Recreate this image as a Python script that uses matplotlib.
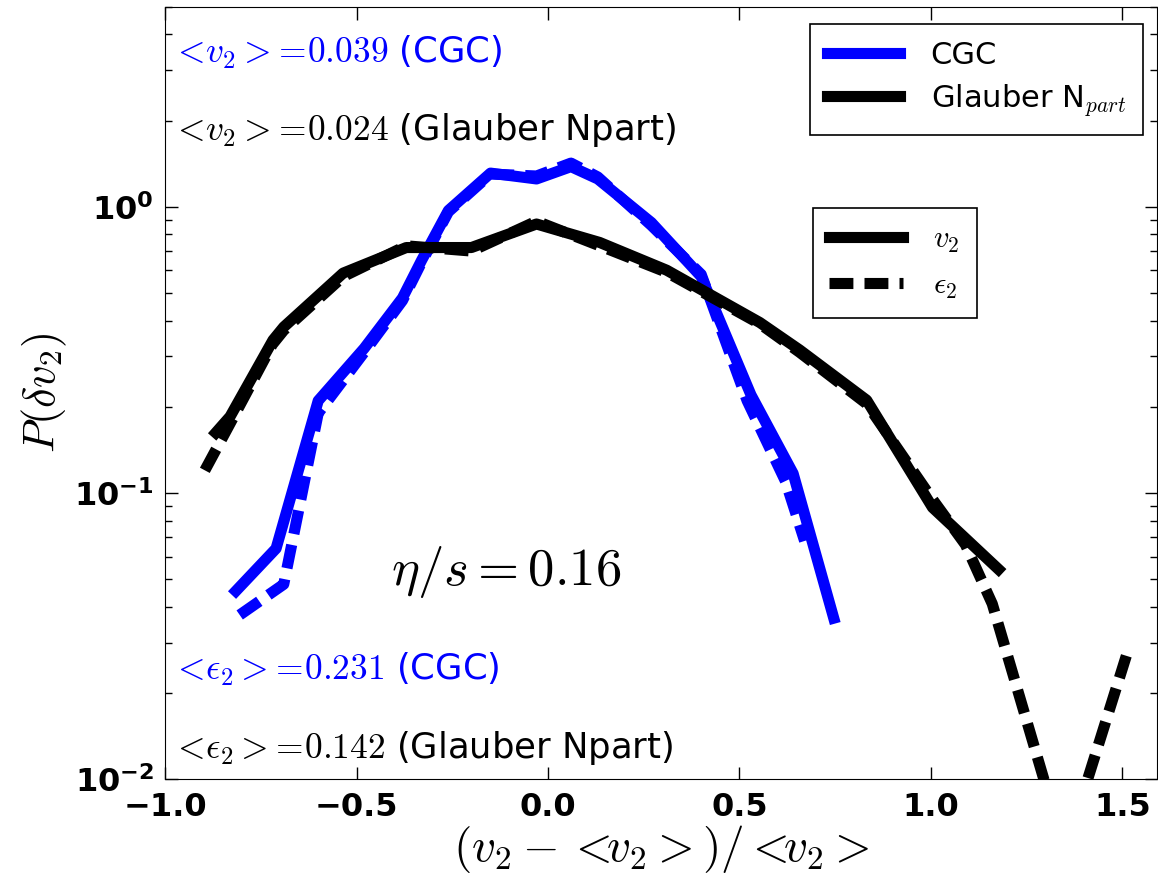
import matplotlib
matplotlib.use("Agg")
import matplotlib.pyplot as plt
from matplotlib.lines import Line2D

plt.rcParams['mathtext.fontset'] = 'cm'
plt.rcParams['font.family'] = ['DejaVu Sans']

# CGC, v2 (solid) and eps2 (dashed)
cgc_x_v2 = [-0.825, -0.71, -0.60, -0.48, -0.38, -0.33, -0.26, -0.15, -0.03, 0.06, 0.13, 0.27, 0.40, 0.53, 0.64, 0.75]
cgc_v2 = [0.044, 0.064, 0.21, 0.32, 0.48, 0.65, 0.97, 1.31, 1.25, 1.38, 1.25, 0.88, 0.57, 0.22, 0.117, 0.035]
cgc_x_e2 = [-0.805, -0.69, -0.60, -0.48, -0.38, -0.33, -0.26, -0.15, -0.03, 0.06, 0.13, 0.27, 0.40, 0.52, 0.62, 0.67]
cgc_e2 = [0.0375, 0.048, 0.19, 0.31, 0.47, 0.64, 0.96, 1.30, 1.28, 1.42, 1.27, 0.86, 0.58, 0.21, 0.11, 0.068]

# Glauber Npart, v2 (solid) and eps2 (dashed)
gl_x_v2 = [-0.877, -0.83, -0.718, -0.69, -0.535, -0.37, -0.20, -0.03, 0.135, 0.31, 0.553, 0.657, 0.832, 1.004, 1.187]
gl_v2 = [0.157, 0.185, 0.342, 0.38, 0.586, 0.72, 0.72, 0.87, 0.75, 0.60, 0.394, 0.316, 0.211, 0.089, 0.0525]
gl_x_e2 = [-0.896, -0.83, -0.72, -0.69, -0.535, -0.37, -0.20, -0.03, 0.135, 0.31, 0.553, 0.657, 0.832, 1.004, 1.09, 1.16, 1.35, 1.51]
gl_e2 = [0.12, 0.175, 0.33, 0.37, 0.57, 0.73, 0.70, 0.89, 0.73, 0.59, 0.39, 0.31, 0.205, 0.095, 0.066, 0.041, 0.0056, 0.027]

xticks = [-1.0, -0.5, 0.0, 0.5, 1.0, 1.5]
xticklabels = ['\u22121.0', '\u22120.5', '0.0', '0.5', '1.0', '1.5']
yticks = [0.01, 0.1, 1.0]
yticklabels = [r'$\mathdefault{10^{-2}}$', r'$\mathdefault{10^{-1}}$', r'$\mathdefault{10^{0}}$']

fig = plt.figure(figsize=(11.58, 8.77), dpi=100)
ax = fig.add_axes([0.1425, 0.1114, 0.8566, 0.8811])

lw = 8
dash = [2.15, 1.0]
ax.plot(cgc_x_v2, cgc_v2, color='b', lw=lw, solid_capstyle='butt')
ax.plot(cgc_x_e2, cgc_e2, color='b', lw=lw, dashes=dash)
ax.plot(gl_x_v2, gl_v2, color='k', lw=lw, solid_capstyle='butt')
ax.plot(gl_x_e2, gl_e2, color='k', lw=lw, dashes=dash)

ax.set_yscale('log')
ax.set_xlim(-1.0, 1.59)
ax.set_ylim(0.01, 5.0)
ax.set_xticks(xticks, xticklabels, fontsize=23, fontweight='bold')
ax.set_yticks(yticks, yticklabels, fontsize=23, fontweight='bold')
ax.tick_params(which='both', direction='in', top=True, right=True)
ax.tick_params(which='major', length=9, width=1, pad=8)
ax.tick_params(which='minor', length=5, width=1)
ax.tick_params(axis='x', pad=9)

ax.set_xlabel(r'$(v_2 - <\!\!v_2>)/<\!\!v_2>$', fontsize=34, labelpad=0)
ax.set_ylabel(r'$P(\delta v_2)$', fontsize=32, labelpad=4)

fs = 25.5
ax.text(0.006, 0.941, r'$<\!v_2>\!=\!0.039$ (CGC)', color='b', fontsize=fs,
        transform=ax.transAxes, va='center', ha='left')
ax.text(0.006, 0.8405, r'$<\!v_2>\!=\!0.024$ (Glauber Npart)', color='k', fontsize=fs,
        transform=ax.transAxes, va='center', ha='left')
ax.text(0.006, 0.1415, r'$<\!\epsilon_2>\!=\!0.231$ (CGC)', color='b', fontsize=fs,
        transform=ax.transAxes, va='center', ha='left')
ax.text(0.006, 0.0405, r'$<\!\epsilon_2>\!=\!0.142$ (Glauber Npart)', color='k', fontsize=fs,
        transform=ax.transAxes, va='center', ha='left')
ax.text(0.228, 0.268, r'$\eta/s=0.16$', color='k', fontsize=38,
        transform=ax.transAxes, va='center', ha='left')

h1 = [Line2D([], [], color='b', lw=lw), Line2D([], [], color='k', lw=lw)]
leg1 = ax.legend(h1, ['CGC', r'Glauber N$_{part}$'], loc='upper left',
                 bbox_to_anchor=(0.6995, 0.9726), bbox_transform=fig.transFigure,
                 borderaxespad=0, fontsize=22, handlelength=2.4, handletextpad=1.0,
                 labelspacing=0.4, borderpad=0.55, fancybox=False, framealpha=1,
                 edgecolor='k')
leg1.get_frame().set_linewidth(1.2)
ax.add_artist(leg1)

h2 = [Line2D([], [], color='k', lw=lw), Line2D([], [], color='k', lw=lw, dashes=dash)]
leg2 = ax.legend(h2, [r'$v_2$', r'$\epsilon_2$'], loc='upper left',
                 bbox_to_anchor=(0.7018, 0.7625), bbox_transform=fig.transFigure,
                 borderaxespad=0, fontsize=22, handlelength=2.4, handletextpad=1.0,
                 labelspacing=0.5, borderpad=0.55, fancybox=False, framealpha=1,
                 edgecolor='k')
leg2.get_frame().set_linewidth(1.2)

fig.savefig('out.png', dpi=100)
